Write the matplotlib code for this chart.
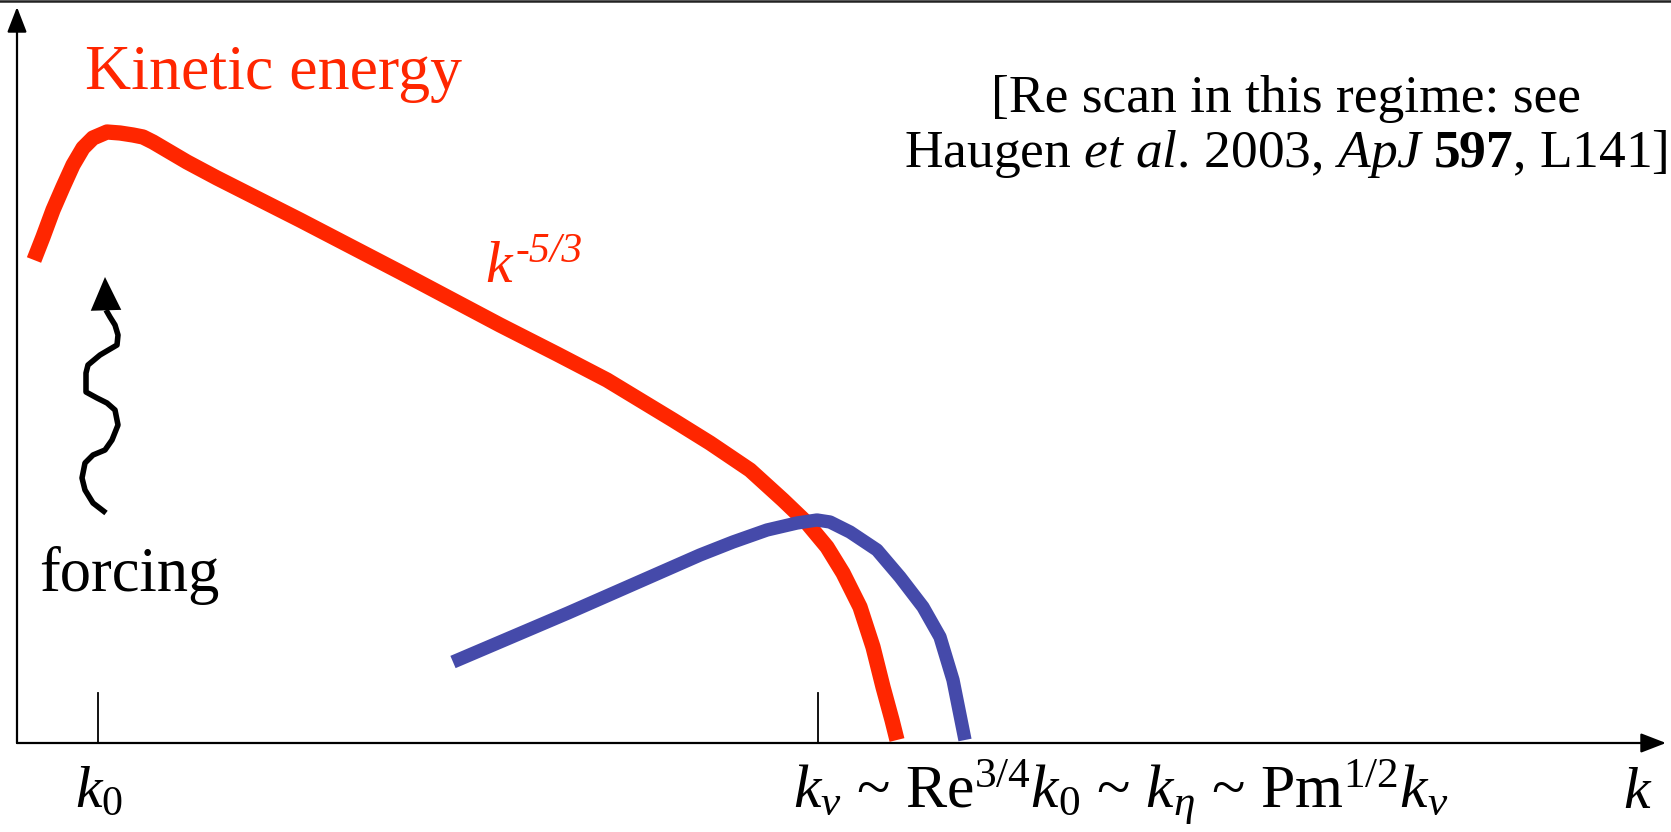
"""Schematic kinetic / magnetic energy spectra with forcing at k0."""
import matplotlib
matplotlib.use("Agg")
import matplotlib.pyplot as plt
from matplotlib.lines import Line2D

plt.rcParams["font.family"] = ["Liberation Serif", "DejaVu Serif"]
plt.rcParams["mathtext.fontset"] = "custom"
plt.rcParams["mathtext.rm"] = "Liberation Serif"
plt.rcParams["mathtext.it"] = "Liberation Serif:italic"
plt.rcParams["mathtext.bf"] = "Liberation Serif:bold"

RED = "#ff2600"
BLUE = "#454aaa"

# schematic spectra (k along the axis, E above it)
kin_k = [17, 26, 36, 46, 56, 66, 76, 90, 103, 116, 126, 136, 153, 170, 200,
         283, 383, 483, 540, 590, 656, 693, 733, 766, 790, 810, 826, 843,
         856, 866, 875, 880]
kin_E = [483, 506, 533, 556, 578, 595, 605, 611, 610, 608, 606, 601, 591, 581,
         565, 523, 471, 418, 389, 363, 323, 300, 273, 243, 220, 196, 170, 136,
         96, 56, 23, 3]

mag_k = [436, 551, 683, 716, 750, 780, 800, 813, 833, 860, 883, 906, 923,
         936, 948]
mag_E = [81, 130, 188, 201, 213, 220, 223, 221, 211, 193, 166, 136, 106,
         63, 3]

# wavy forcing arrow
force_k = [89, 76, 68, 65, 68, 76, 88, 95, 101, 98, 90, 80, 69, 69, 71, 83,
           100, 101, 98, 93, 89]
force_E = [230, 240, 253, 265, 280, 288, 293, 303, 318, 333, 340, 345, 351,
           370, 378, 388, 398, 408, 418, 426, 433]
force_tip = (88, 466)

tick_k = [81, 801]
tick_height = 50

k_max = 1649
E_max = 736

fig = plt.figure(figsize=(16.71, 8.32), dpi=100)
ax = fig.add_axes([0, 0, 1, 1])
ax.set_xlim(-17, 1654)
ax.set_ylim(-89, 743)
ax.axis("off")

# axes with arrow heads
arrow = dict(arrowstyle="-|>,head_length=1.55,head_width=0.6", color="black",
             lw=1.6, shrinkA=0, shrinkB=0, mutation_scale=10)
ax.annotate("", xy=(0, E_max), xytext=(0, 0), arrowprops=arrow)
ax.annotate("", xy=(k_max, 0), xytext=(0, 0), arrowprops=arrow)
for k in tick_k:
    ax.plot([k, k], [0, tick_height], color="black", lw=1.3)

ax.plot(kin_k, kin_E, color=RED, lw=11, solid_capstyle="butt",
        solid_joinstyle="round")
ax.plot(mag_k, mag_E, color=BLUE, lw=9.6, solid_capstyle="butt",
        solid_joinstyle="round")

ax.plot(force_k, force_E, color="black", lw=4.0, solid_joinstyle="round",
        solid_capstyle="butt")
ax.annotate("", xy=force_tip, xytext=(force_k[-1], force_E[-1]),
            arrowprops=dict(arrowstyle="-|>,head_length=2.4,head_width=1.1",
                            color="black", lw=0, shrinkA=0, shrinkB=0,
                            mutation_scale=10))

# labels
ax.text(68, 654, "Kinetic energy", color=RED, fontsize=46, va="baseline")
ax.text(22, 152, "forcing", color="black", fontsize=45, va="baseline")
ax.text(468, 461, "k", color=RED, fontsize=43, style="italic", va="baseline")
ax.text(498, 481, "-5/3", color=RED, fontsize=30, style="italic",
        va="baseline")
ax.text(1269, 631, "[Re scan in this regime: see", fontsize=38.5,
        ha="center", va="baseline")
ax.text(1269, 576,
        r"Haugen $\mathit{et\ al}$. 2003, $\mathit{ApJ}$ $\mathbf{597}$, L141]",
        fontsize=38.5, ha="center", va="baseline")

ax.text(58, -64, r"$k_0$", fontsize=43, va="baseline")
ax.text(776, -65,
        r"$k_\nu$ ~ Re$^{3/4}$$k_0$ ~ $k_\eta$ ~ Pm$^{1/2}$$k_\nu$",
        fontsize=44.5, va="baseline")
ax.text(1606, -65, r"$k$", fontsize=43, va="baseline")

# slide frame line at the very top
fig.add_artist(Line2D([0, 1], [0.9985, 0.9985], transform=fig.transFigure,
                      color="#222222", lw=1.8))

fig.savefig("out.png", dpi=100)
